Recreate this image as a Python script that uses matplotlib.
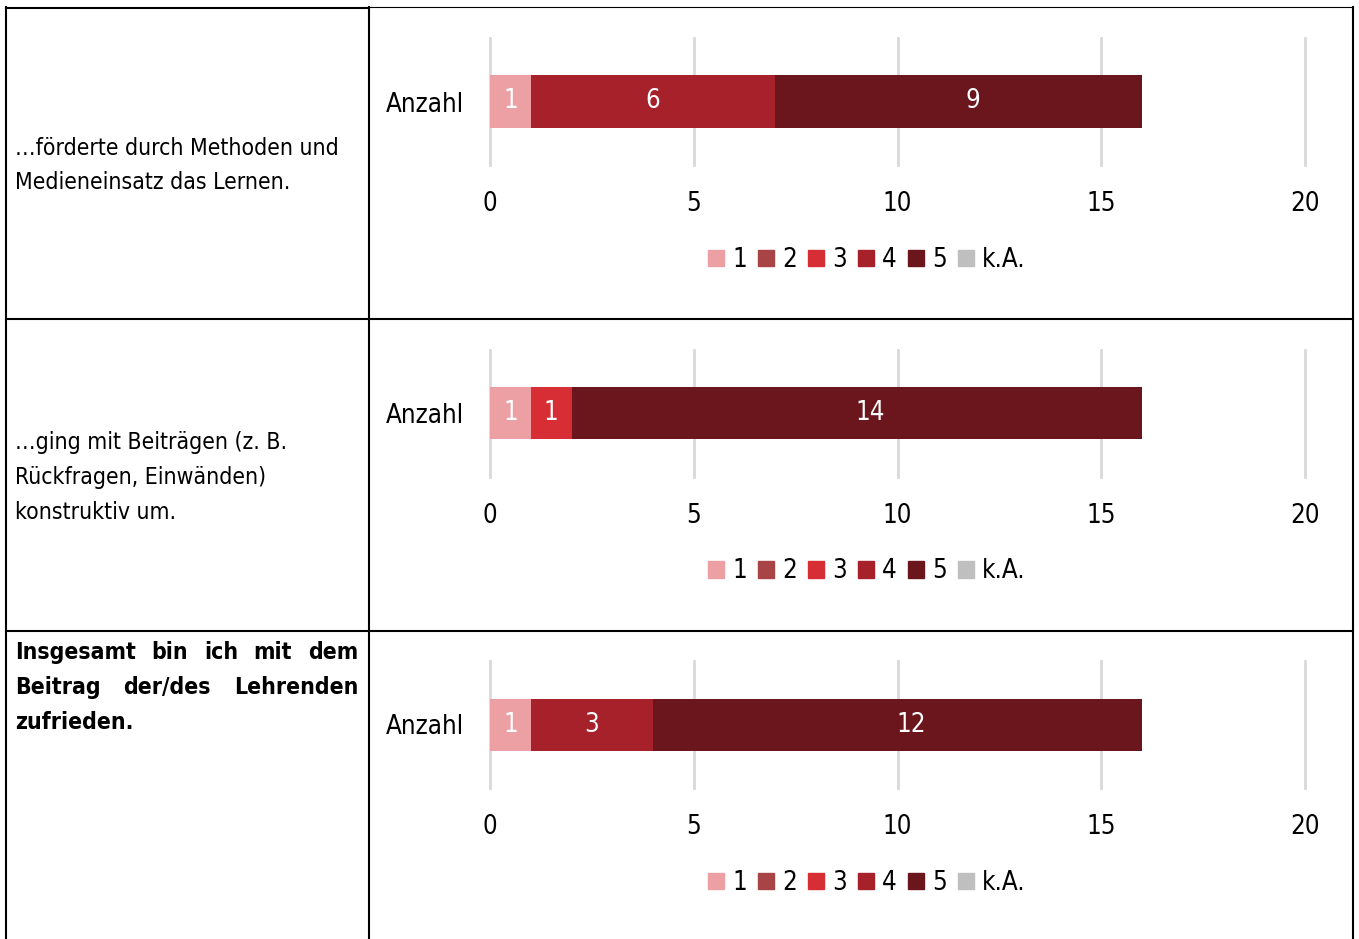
import matplotlib.pyplot as plt
from matplotlib.lines import Line2D
from matplotlib.patches import Patch

plt.rcParams['font.family'] = ['DejaVu Sans']
plt.rcParams['font.stretch'] = 'condensed'

# data
questions = [
    ["…förderte durch Methoden und", "Medieneinsatz das Lernen."],
    ["…ging mit Beiträgen (z. B.", "Rückfragen, Einwänden)", "konstruktiv um."],
    ["Insgesamt bin ich mit dem", "Beitrag der/des Lehrenden", "zufrieden."],
]
categories = ["1", "2", "3", "4", "5", "k.A."]
counts = [
    [1, 0, 0, 6, 9, 0],
    [1, 0, 1, 0, 14, 0],
    [1, 0, 0, 3, 12, 0],
]
xticks = [0, 5, 10, 15, 20]
colors = ["#EDA0A4", "#A84446", "#D72D35", "#A7212A", "#6A161C", "#BFBFBF"]

W, H = 1359, 939
fig = plt.figure(figsize=(W / 100, H / 100), dpi=100)


def fx(x):
    return x / W


def fy(y):
    return 1 - y / H


offsets = [0, 311.5, 623]
fs = 18.5

for i, row in enumerate(counts):
    off = offsets[i]
    ax = fig.add_axes([fx(490), fy(165 + off), 815 / W, 127 / H])
    left = 0
    for c, v in enumerate(row):
        ax.barh(0, v, left=left, height=52 / 127, color=colors[c])
        if v > 0:
            # Excel puts the label of the "5" segment slightly right of centre
            dx = 10 if categories[c] == "5" else 0
            ax.annotate(str(v), (left + v / 2, 0), xytext=(dx, 0), textcoords='offset points',
                        color='white', ha='center', va='center', fontsize=fs)
        left += v
    ax.set_xlim(0, 20)
    ax.set_ylim(-0.5, 0.5)
    ax.set_xticks(xticks)
    ax.set_yticks([0])
    ax.set_yticklabels(["Anzahl"])
    ax.tick_params(axis='x', length=0, pad=19, labelsize=fs)
    ax.tick_params(axis='y', length=0, pad=19, labelsize=fs)
    ax.grid(axis='x', color='#D9D9D9', lw=2)
    ax.set_axisbelow(True)
    for g in ax.get_xgridlines():
        g.set_clip_on(False)
    for s in ax.spines.values():
        s.set_visible(False)
    handles = [Patch(color=col) for col in colors]
    ax.legend(handles, categories, loc='center', bbox_to_anchor=(fx(867), fy(260 + off)),
              bbox_transform=fig.transFigure, ncol=6, frameon=False, fontsize=fs,
              handlelength=0.62, handleheight=0.62, handletextpad=0.3,
              columnspacing=0.45, borderpad=0, borderaxespad=0)

# table lines
lw = 1.5
for (x0, y0, x1, y1, w) in [
    (6, 7.5, 369, 7.5, lw), (369, 6.5, 1353, 6.5, 0.8),
    (6, 7, 6, 939, lw), (369, 7, 369, 939, lw), (1353, 7, 1353, 939, lw),
    (6, 319, 1353, 319, lw), (6, 631, 1353, 631, lw),
]:
    fig.add_artist(Line2D([fx(x0), fx(x1)], [fy(y0), fy(y1)], color='black', lw=w,
                          solid_capstyle='projecting'))

# left column text
baselines = [[155, 189], [449, 484, 519], [659, 694, 729]]
tfs = 16.5
for lines, ys in zip(questions[:2], baselines[:2]):
    for line, y in zip(lines, ys):
        fig.text(fx(15), fy(y), line, fontsize=tfs, va='baseline', ha='left')

renderer = fig.canvas.get_renderer()


def justify(line, y, x0, x1, **kw):
    words = line.split()
    texts = [fig.text(0, fy(y), w, va='baseline', ha='left', **kw) for w in words]
    widths = [t.get_window_extent(renderer).width for t in texts]
    gap = (x1 - x0 - sum(widths)) / (len(words) - 1)
    x = x0
    for t, w in zip(texts, widths):
        t.set_x(fx(x))
        x += w + gap


last = questions[2]
for j, (line, y) in enumerate(zip(last, baselines[2])):
    if j < len(last) - 1:
        justify(line, y, 15, 358, fontsize=tfs, fontweight='bold')
    else:
        fig.text(fx(15), fy(y), line, fontsize=tfs, fontweight='bold', va='baseline', ha='left')

fig.savefig('out.png', dpi=100)
